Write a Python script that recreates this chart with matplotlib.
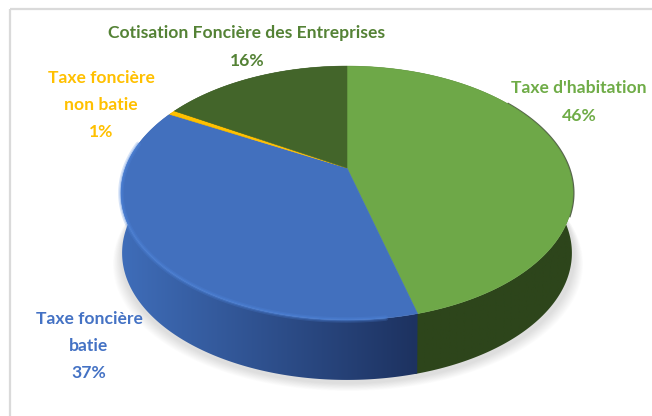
import numpy as np
import matplotlib
matplotlib.use("Agg")
import matplotlib.pyplot as plt
from matplotlib.patches import Polygon
from matplotlib.colors import to_rgb

categories = ["Taxe d'habitation", "Taxe foncière\nbatie", "Taxe foncière\nnon batie", "Cotisation Foncière des Entreprises"]
values = [45.85, 37.15, 0.6, 16.4]
top_colors = ["#6EA848", "#4270BE", "#FFC000", "#43652A"]
label_colors = ["#6FAC47", "#4472C4", "#FFC000", "#548235"]
wall_start = ["#2D451B", "#3F6DB9", "#A67C00", "#2D451B"]
wall_end = ["#2D451B", "#1D3260", "#A67C00", "#2D451B"]
label_pos = [(579, 102), (89, 346), (101, 105), (247, 47)]

CX, CY = 347, 168
A, B, K = 221.6, 122, 0.197
DEPTH = 60


def project(theta):
    u, v = np.sin(theta), np.cos(theta)
    d = 1 + K * v
    return CX + A * u / d, CY - B * v / d


fig = plt.figure(figsize=(6.52, 4.16), dpi=100)
ax = fig.add_axes([0, 0, 1, 1])
ax.axis("off")

# chart frame
ax.plot([10, 10], [416, 9], color="#DADADA", lw=1.6, solid_capstyle="butt")
ax.plot([10, 652], [9, 9], color="#DADADA", lw=1.6, solid_capstyle="butt")

# soft shadow beneath the pie
full = np.linspace(0, 2 * np.pi, 361)
fx, fy = project(full)
for grow in np.linspace(9, 1, 11):
    sx = CX + (fx - CX) * (1 + grow / 226) + 1
    sy = fy + DEPTH + 3 + grow * 0.9
    ax.add_patch(Polygon(np.column_stack([sx, sy]), closed=True, fc="#000000", ec="none", alpha=0.012, zorder=1))

fractions = np.cumsum([0] + values) / sum(values) * 2 * np.pi

# side wall: one outline per slice, filled by a horizontal gradient
for i in range(len(values)):
    th = np.linspace(fractions[i], fractions[i + 1] + 0.01, 200)
    x, y = project(th)
    bx = CX + (x - CX) * 0.995
    wall = np.column_stack([np.r_[x, bx[::-1]], np.r_[y, (y + DEPTH)[::-1]]])
    patch = Polygon(wall, closed=True, fc="none", ec="none", zorder=2 + i * 0.01)
    ax.add_patch(patch)
    ramp = np.linspace(0, 1, 256)[None, :, None]
    c0, c1 = np.array(to_rgb(wall_start[i])), np.array(to_rgb(wall_end[i]))
    grad = c0[None, None, :] + (c1 - c0)[None, None, :] * ramp
    im = ax.imshow(grad, extent=(wall[:, 0].min(), wall[:, 0].max(), wall[:, 1].max(), wall[:, 1].min()),
                   aspect="auto", interpolation="bilinear", zorder=2 + i * 0.01)
    im.set_clip_path(patch)

ax.set_xlim(0, 652)
ax.set_ylim(416, 0)

# dark outline of the rim at the right of the top face
th = np.linspace(np.pi * 0.30, np.pi * 0.62, 60)
x, y = project(th)
ax.plot(x + 0.6, y, color="#2D3F20", lw=1.3, alpha=0.8, zorder=2.5)

# top face
for i in range(len(values)):
    th = np.linspace(fractions[i], fractions[i + 1], 200)
    x, y = project(th)
    poly = np.column_stack([np.r_[CX, x], np.r_[CY, y]])
    ax.add_patch(Polygon(poly, closed=True, fc=top_colors[i], ec=top_colors[i], lw=0.4, zorder=3))

# bevel highlight on the blue front edge
th = np.linspace(fractions[1] + 0.12, fractions[2] - 0.3, 120)
x, y = project(th)
for lw, alpha in zip([4.0, 2.0], [0.22, 0.35]):
    ax.plot(x, y, color="#5087DE", lw=lw, alpha=alpha, zorder=3.5, solid_capstyle="round")

# labels
for name, val, col, (lx, ly) in zip(categories, values, label_colors, label_pos):
    ax.text(lx, ly, f"{name}\n{val:.0f}%", color=col, ha="center", va="center",
            family="Lato", weight="bold", fontsize=12.6, linespacing=1.85, zorder=5)

fig.savefig("out.png", dpi=100)
